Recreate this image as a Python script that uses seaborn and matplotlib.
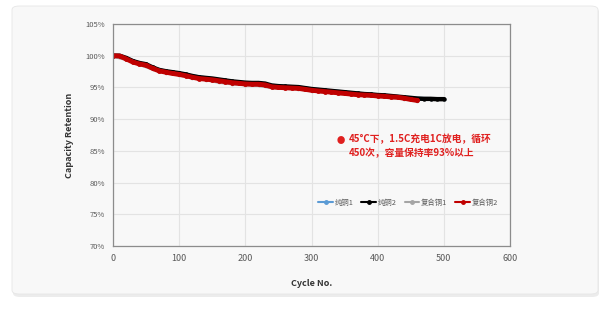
import matplotlib
matplotlib.use('Agg')

import matplotlib.pyplot as plt
import pandas as pd
import seaborn as sns
from matplotlib.lines import Line2D
from matplotlib.patches import FancyBboxPatch
from matplotlib.ticker import FuncFormatter

# cycle numbers
cycles_cu2 = list(range(0, 510, 10))
cycles_comp2 = list(range(0, 470, 10))
cycles_cu1 = list(range(0, 520, 20))
cycles_comp1 = list(range(0, 480, 20))

# capacity retention, %
cu1 = [100.0, 99.6, 98.8, 98.1, 97.5, 97.2, 96.8, 96.5, 96.2, 95.9, 95.7, 95.7, 95.3,
       95.15, 95.05, 94.75, 94.55, 94.35, 94.15, 93.95, 93.8, 93.65, 93.45, 93.25, 93.2, 93.15]
cu2 = [100.0, 100.0, 99.65, 99.15, 98.85, 98.65, 98.15, 97.75, 97.55, 97.4,
       97.25, 97.05, 96.8, 96.6, 96.5, 96.4, 96.25, 96.1, 95.95, 95.85,
       95.75, 95.7, 95.7, 95.6, 95.3, 95.2, 95.15, 95.1, 95.05, 94.9,
       94.75, 94.65, 94.55, 94.45, 94.35, 94.25, 94.15, 94.05, 93.95, 93.9,
       93.8, 93.75, 93.65, 93.55, 93.45, 93.35, 93.25, 93.2, 93.2, 93.15, 93.15]
comp1 = [99.95, 99.45, 98.65, 97.95, 97.35, 97.0, 96.55, 96.25, 95.85, 95.6, 95.45, 95.35,
         95.0, 94.9, 94.8, 94.5, 94.3, 94.1, 93.9, 93.75, 93.6, 93.45, 93.25, 92.9]
comp2 = [100.0, 99.95, 99.5, 99.0, 98.7, 98.5, 98.0, 97.6, 97.4, 97.2,
         97.05, 96.85, 96.6, 96.4, 96.3, 96.2, 96.05, 95.9, 95.75, 95.65,
         95.55, 95.5, 95.5, 95.4, 95.1, 95.0, 94.95, 94.9, 94.85, 94.7,
         94.55, 94.45, 94.35, 94.25, 94.15, 94.05, 93.95, 93.85, 93.8, 93.75,
         93.65, 93.6, 93.5, 93.45, 93.3, 93.1, 92.95]

series_names = ['纯铜1', '纯铜2', '复合铜1', '复合铜2']
colors = ['#5b9bd5', '#000000', '#a5a5a5', '#c00000']
widths = [2.6, 3.2, 2.6, 3.5]

sns.set_style('white')
plt.rcParams['font.family'] = ['Noto Sans CJK SC', 'DejaVu Sans']

fig = plt.figure(figsize=(6.12, 3.16), dpi=100)
fig.patch.set_facecolor('white')

# card background with soft shadow
W, H = 612, 316
shadow = FancyBboxPatch((13 / W, 1 - 297 / H), 586 / W, 289 / H,
                        boxstyle='round,pad=0,rounding_size=0.012',
                        transform=fig.transFigure, facecolor='#ececec',
                        edgecolor='none', zorder=-3)
card = FancyBboxPatch((12 / W, 1 - 294 / H), 586 / W, 288 / H,
                      boxstyle='round,pad=0,rounding_size=0.012',
                      transform=fig.transFigure, facecolor='#f8f8f8',
                      edgecolor='#e6e6e6', linewidth=0.6, zorder=-2)
fig.add_artist(shadow)
fig.add_artist(card)

ax = fig.add_axes([113 / W, 1 - 246 / H, 397 / W, 222 / H])
ax.set_facecolor('#f8f8f8')

data = [(cycles_cu1, cu1), (cycles_cu2, cu2), (cycles_comp1, comp1), (cycles_comp2, comp2)]
for (x, y), c, lw in zip(data, colors, widths):
    df = pd.DataFrame({'cycle': x, 'ret': y})
    sns.lineplot(data=df, x='cycle', y='ret', ax=ax, color=c, linewidth=lw,
                 marker='o', markersize=lw, markeredgewidth=0, legend=False)

ax.set_xlim(0, 600)
ax.set_ylim(70, 105)
ax.set_xticks(range(0, 700, 100))
ax.set_yticks(range(70, 110, 5))
ax.yaxis.set_major_formatter(FuncFormatter(lambda v, p: f'{v:.0f}%'))
ax.grid(True, color='#e3e3e3', linewidth=0.8)
ax.set_axisbelow(True)
for s in ax.spines.values():
    s.set_color('#8c8c8c')
    s.set_linewidth(0.9)
ax.tick_params(axis='y', labelsize=5.5, labelcolor='#595959', length=0, pad=6)
ax.tick_params(axis='x', labelsize=6.5, labelcolor='#595959', length=0, pad=6)

ax.set_xlabel('Cycle No.', fontsize=6.5, fontweight='bold', color='#333333', labelpad=11)
ax.set_ylabel('Capacity Retention', fontsize=6.5, fontweight='bold', color='#333333', labelpad=8)

handles = [Line2D([0], [0], color=c, linewidth=1.5, marker='o', markersize=2.5)
           for c in colors]
leg = ax.legend(handles, series_names, loc='center', bbox_to_anchor=(0.743, 0.194),
                ncol=4, frameon=False, fontsize=5.3, handlelength=2.0,
                handletextpad=0.2, columnspacing=1.1)
for t in leg.get_texts():
    t.set_color('#595959')

ax.text(345, 86.6, '●', color='#e0201f', fontsize=6, va='center', ha='center')
ax.text(357, 87.75, '45°C下，1.5C充电1C放电，循环\n450次，容量保持率93%以上',
        color='#e0201f', fontsize=7, fontweight='bold', va='top', ha='left',
        linespacing=1.55)

fig.savefig('out.png', dpi=100, facecolor='white')
